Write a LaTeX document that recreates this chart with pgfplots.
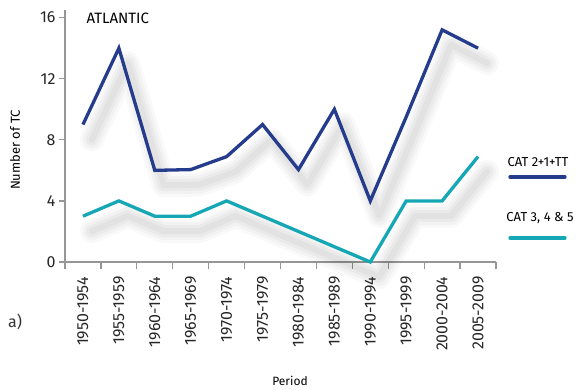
\documentclass[border=0pt]{standalone}
\usepackage{fontspec}
\setmainfont{Fira Sans}
\usepackage{pgfplots}
\pgfplotsset{compat=1.18}
\usepackage{pgfplotstable}

\definecolor{catblue}{RGB}{37,59,140}
\definecolor{catteal}{RGB}{22,167,181}
\definecolor{axgray}{RGB}{150,150,150}

% x = period index, hi = CAT 2+1+TT, lo = CAT 3, 4 & 5
\pgfplotstableread{
x  hi   lo
0  9    3
1  14   4
2  6    3
3  6.05 3
4  6.9  4
5  9    3
6  6.05 2
7  10   1
8  4    0
9  9.5  4
10 15.2 4
11 14   6.9
}\tcdata

\pgfplotsset{
  shadowline/.style={draw=black, line width=#1, line join=round, line cap=round,
    transform canvas={xshift=9pt,yshift=-15pt}, forget plot},
}

\begin{document}
\begin{tikzpicture}
\useasboundingbox (-65pt,-128pt) rectangle (512pt,262pt);
\begin{axis}[
  at={(0pt,0pt)}, anchor=south west,
  scale only axis, width=431pt, height=252pt,
  xmin=-0.5, xmax=11.5, ymin=0, ymax=16.5,
  clip=false,
  axis lines=left, axis line style={draw=axgray, line width=1.4pt, -},
  xtick={0,...,11},
  xticklabels={1950-1954,1955-1959,1960-1964,1965-1969,1970-1974,1975-1979,
    1980-1984,1985-1989,1990-1994,1995-1999,2000-2004,2005-2009},
  minor xtick={-0.5,0.5,...,11.5},
  ytick={0,4,8,12,16},
  tick align=outside,
  major tick length=6pt, minor tick length=7pt,
  x tick style={draw=none},
  minor x tick style={draw=axgray, line width=1.2pt},
  y tick style={draw=axgray, line width=1.2pt},
  ticklabel style={font=\fontsize{16}{18}\selectfont, text=black!85},
  xticklabel style={yshift=-5pt, rotate=90, anchor=east},
  /pgf/number format/assume math mode=true,
]
% soft drop shadows
\addplot[shadowline=24pt, opacity=0.022] table[x=x,y=hi]{\tcdata};
\addplot[shadowline=18pt, opacity=0.028] table[x=x,y=hi]{\tcdata};
\addplot[shadowline=12pt, opacity=0.032] table[x=x,y=hi]{\tcdata};
\addplot[shadowline=6pt, opacity=0.035] table[x=x,y=hi]{\tcdata};
\addplot[shadowline=24pt, opacity=0.022] table[x=x,y=lo]{\tcdata};
\addplot[shadowline=18pt, opacity=0.028] table[x=x,y=lo]{\tcdata};
\addplot[shadowline=12pt, opacity=0.032] table[x=x,y=lo]{\tcdata};
\addplot[shadowline=6pt, opacity=0.035] table[x=x,y=lo]{\tcdata};
% series
\addplot[catblue, line width=3.3pt, line join=miter] table[x=x,y=hi]{\tcdata};
\addplot[catteal, line width=3.3pt, line join=miter] table[x=x,y=lo]{\tcdata};
\end{axis}

\node[anchor=west, font=\fontsize{15}{17}\selectfont] at (18pt,244pt) {ATLANTIC};
\node[rotate=90, font=\fontsize{13}{15}\selectfont] at (-50pt,112pt) {Number of TC};
\node[font=\fontsize{12}{14}\selectfont] at (225pt,-119pt) {Period};
\node[font=\fontsize{16}{18}\selectfont, text=black!80] at (-50pt,-60pt) {a)};

% legend
\node[font=\fontsize{13}{15}\selectfont] at (473pt,100pt) {CAT 2+1+TT};
\draw[catblue, line width=3.3pt, line cap=round] (445pt,85pt) -- (500pt,85pt);
\node[font=\fontsize{13}{15}\selectfont] at (475pt,44pt) {CAT 3, 4 \& 5};
\draw[catteal, line width=3.3pt, line cap=round] (445pt,24pt) -- (500pt,24pt);
\end{tikzpicture}
\end{document}
